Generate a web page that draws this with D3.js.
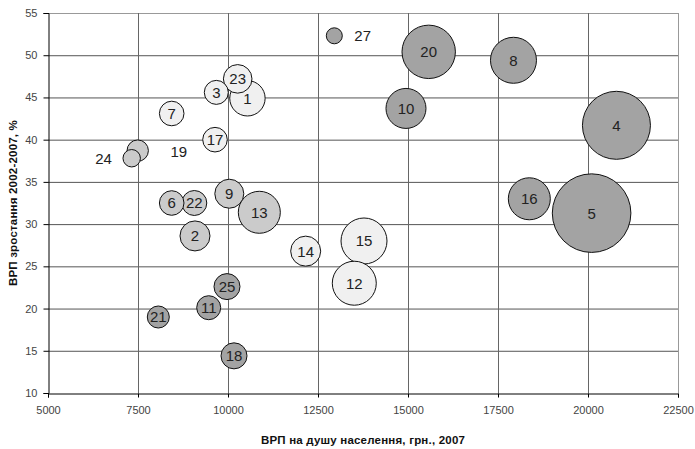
<!DOCTYPE html>
<html><head><meta charset="utf-8">
<script src="https://cdn.jsdelivr.net/npm/d3@7"></script>
<style>body{margin:0;background:#fff}svg{display:block}</style>
</head><body>
<script>
// Data
const ids    = [1,2,3,4,5,6,7,8,9,10,11,12,13,14,15,16,17,18,19,20,21,22,23,24,25,27];
const gdpPC  = [10540,9083,9675,20790,20100,8436,8436,17930,10036,14944,9464,13508,10870,12158,13778,18370,9639,10167,7492,15575,8064,9064,10269,7325,9972,12953];
const growth = [44.9,28.6,45.6,41.7,31.3,32.5,43.1,49.4,33.6,43.7,20.1,23.0,31.4,26.8,28.0,33.0,40.0,14.4,38.7,50.4,19.0,32.5,47.2,37.8,22.6,52.3];
const bsize  = [313,225,144,1156,1544,151,151,529,210,400,144,484,441,225,529,441,151,169,114,713,121,156,204,76,169,64];
const group  = [0,1,0,2,2,1,0,2,1,2,2,0,1,0,0,2,0,2,1,2,2,1,0,1,2,2];
const outsideLabel = [27,19,24];
const xTicks = [5000,7500,10000,12500,15000,17500,20000,22500];
const yTicks = [10,15,20,25,30,35,40,45,50,55];
const groupColors = ["#f0f0f0","#cbcbcb","#a3a3a3"];
const xTitle = "ВРП на душу населення, грн., 2007";
const yTitle = "ВРП зростання 2002-2007, %";

const W=695,H=449;
const m={l:48,r:17,t:13,b:56};
const svg=d3.select("body").append("svg").attr("width",W).attr("height",H);
const x=d3.scaleLinear().domain([5000,22500]).range([m.l,W-m.r]);
const y=d3.scaleLinear().domain([10,55]).range([H-m.b,m.t]);
const r=d3.scaleSqrt().domain([0,d3.max(bsize)]).range([0,39.3]);
const font="Liberation Sans, Arial, sans-serif";

// grid
svg.append("g").selectAll("line").data(yTicks.slice(1)).join("line")
  .attr("x1",m.l).attr("x2",W-m.r).attr("y1",d=>y(d)+0.5).attr("y2",d=>y(d)+0.5)
  .attr("stroke",d=>d===55?"#999":"#555").attr("stroke-width",1);
svg.append("g").selectAll("line").data(xTicks.slice(1)).join("line")
  .attr("y1",m.t).attr("y2",H-m.b).attr("x1",d=>x(d)+0.5).attr("x2",d=>x(d)+0.5)
  .attr("stroke",d=>d===22500?"#999":"#666").attr("stroke-width",1);

// axes
const xa=svg.append("g").attr("transform",`translate(0,${H-m.b+0.5})`)
  .call(d3.axisBottom(x).tickValues(xTicks).tickSize(4).tickPadding(9).tickFormat(d3.format("d")));
const ya=svg.append("g").attr("transform",`translate(${m.l+0.5},0)`)
  .call(d3.axisLeft(y).tickValues(yTicks).tickSize(5).tickPadding(6).tickFormat(d3.format("d")));
[xa,ya].forEach(a=>{
  a.select(".domain").attr("stroke","#000");
  a.selectAll(".tick line").attr("stroke","#000");
  a.selectAll("text").attr("font-family",font).attr("font-size",11).attr("fill","#444");
});

// bubbles
const data=ids.map((id,i)=>({id,x:gdpPC[i],y:growth[i],s:bsize[i],g:group[i]}))
  .sort((a,b)=>b.s-a.s);
svg.append("g").selectAll("circle").data(data).join("circle")
  .attr("cx",d=>x(d.x)).attr("cy",d=>y(d.y)).attr("r",d=>r(d.s))
  .attr("fill",d=>groupColors[d.g]).attr("stroke","#111").attr("stroke-width",1);

svg.append("g").selectAll("text").data(data).join("text")
  .attr("x",d=>{
    if(!outsideLabel.includes(d.id)) return x(d.x);
    if(d.id===24) return x(d.x)-r(d.s)-11;
    return x(d.x)+r(d.s)+(d.id===19?22:12);
  })
  .attr("y",d=>y(d.y)+(d.id===19?1:0))
  .attr("dy","0.36em")
  .attr("text-anchor",d=>d.id===24?"end":(outsideLabel.includes(d.id)?"start":"middle"))
  .attr("font-family",font).attr("font-size",15).attr("fill","#222")
  .text(d=>d.id);

// titles
svg.append("text").attr("x",(m.l+W-m.r)/2).attr("y",444).attr("text-anchor","middle")
  .attr("font-family",font).attr("font-size",11.5).attr("letter-spacing","0.2px").attr("font-weight","bold").attr("fill","#111").text(xTitle);
svg.append("text").attr("transform",`translate(17,${(m.t+H-m.b)/2}) rotate(-90)`).attr("text-anchor","middle")
  .attr("font-family",font).attr("font-size",11.5).attr("letter-spacing","0.2px").attr("font-weight","bold").attr("fill","#111").text(yTitle);
</script>
</body></html>
